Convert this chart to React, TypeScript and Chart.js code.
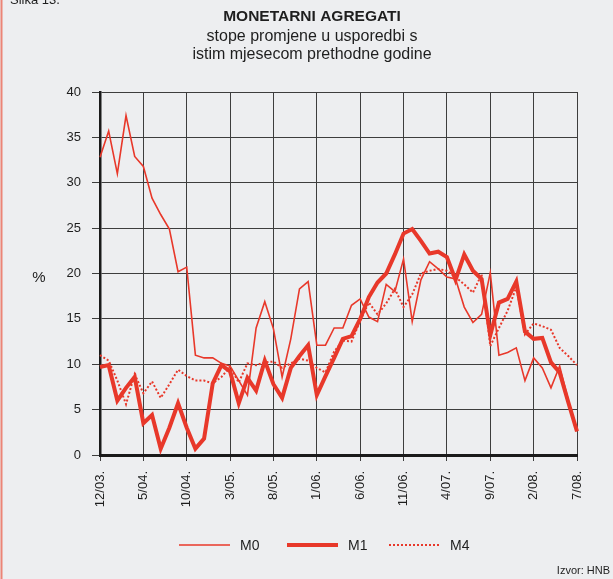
import React, { useEffect, useRef } from 'react';
import { Chart, registerables } from 'chart.js';

Chart.register(...registerables);

const months = [
  '12/03.',
  '1/04.', '2/04.', '3/04.', '4/04.', '5/04.', '6/04.', '7/04.', '8/04.', '9/04.', '10/04.', '11/04.', '12/04.',
  '1/05.', '2/05.', '3/05.', '4/05.', '5/05.', '6/05.', '7/05.', '8/05.', '9/05.', '10/05.', '11/05.', '12/05.',
  '1/06.', '2/06.', '3/06.', '4/06.', '5/06.', '6/06.', '7/06.', '8/06.', '9/06.', '10/06.', '11/06.', '12/06.',
  '1/07.', '2/07.', '3/07.', '4/07.', '5/07.', '6/07.', '7/07.', '8/07.', '9/07.', '10/07.', '11/07.', '12/07.',
  '1/08.', '2/08.', '3/08.', '4/08.', '5/08.', '6/08.', '7/08.',
];

const m0 = [
  32.8, 35.7, 31.0, 37.4, 32.9, 31.8, 28.3, 26.5, 24.9, 20.2,
  20.7, 11.0, 10.7, 10.7, 10.1, 9.8, 8.2, 6.6, 14.0, 16.9,
  13.9, 8.6, 12.8, 18.3, 19.1, 12.1, 12.1, 14.0, 14.0, 16.5,
  17.2, 15.2, 14.7, 18.8, 18.0, 21.6, 14.7, 19.3, 21.3, 20.5,
  19.6, 19.4, 16.3, 14.6, 15.5, 20.1, 11.0, 11.3, 11.8, 8.2,
  10.7, 9.6, 7.4, 9.8, 6.0, 2.6,
];

const m1 = [
  9.7, 9.9, 6.0, 7.4, 8.6, 3.5, 4.4, 0.7, 3.0, 5.7,
  3.0, 0.7, 1.8, 7.9, 9.9, 9.2, 5.7, 8.5, 7.1, 10.4,
  7.8, 6.3, 9.6, 10.9, 12.1, 6.6, 8.7, 10.7, 12.8, 13.1,
  15.0, 17.4, 19.0, 20.0, 22.1, 24.4, 24.9, 23.6, 22.2, 22.4,
  21.8, 19.3, 22.1, 20.3, 19.4, 13.2, 16.8, 17.2, 19.1, 13.6,
  12.8, 12.9, 10.2, 9.1, 5.8, 2.6,
];

const m4 = [
  11.0, 10.4, 8.2, 5.6, 8.9, 6.8, 8.1, 6.3, 7.8, 9.4,
  8.7, 8.2, 8.2, 7.9, 8.6, 9.7, 8.0, 10.1, 9.9, 10.2,
  10.3, 9.6, 10.1, 10.6, 10.4, 9.6, 9.1, 11.4, 12.6, 12.5,
  14.8, 16.8, 15.5, 16.7, 18.3, 16.3, 17.7, 20.0, 20.3, 20.5,
  20.3, 19.6, 18.8, 17.9, 19.9, 12.0, 14.0, 15.9, 18.5, 13.3,
  14.5, 14.2, 13.8, 11.8, 10.9, 9.9,
];

const seriesNames = ['M0', 'M1', 'M4'];
const titleText = 'MONETARNI AGREGATI';
const subtitleLines = ['stope promjene u usporedbi s', 'istim mjesecom prethodne godine'];
const yUnit = '%';
const sourceText = 'Izvor: HNB';
const figureText = 'Slika 13.';

const FONT = '"Liberation Sans", Arial, Helvetica, sans-serif';
const RED = '#E8382A';
const BG = '#EDEEF0';
const GRID = '#3d3d3d';
const TXT = '#1e1e1e';

export default function App() {
  const ref = useRef<HTMLCanvasElement | null>(null);

  useEffect(() => {
    if (!ref.current) return;

    const decor = {
      id: 'decor',
      beforeDraw(chart: any) {
        const ctx = chart.ctx;
        ctx.save();
        ctx.fillStyle = BG;
        ctx.fillRect(0, 0, chart.width, chart.height);
        ctx.strokeStyle = '#EC8476';
        ctx.lineWidth = 2;
        ctx.beginPath();
        ctx.moveTo(1.5, 0);
        ctx.lineTo(1.5, chart.height);
        ctx.stroke();
        ctx.restore();
      },
      afterDraw(chart: any) {
        const ctx = chart.ctx;
        ctx.save();
        ctx.fillStyle = TXT;
        ctx.textAlign = 'left';
        ctx.textBaseline = 'alphabetic';
        ctx.font = `13px ${FONT}`;
        ctx.fillText(figureText, 10, 4);
        ctx.textAlign = 'center';
        ctx.textBaseline = 'middle';
        ctx.font = `bold 15.5px ${FONT}`;
        ctx.fillText(titleText, 312, 17);
        ctx.font = `16px ${FONT}`;
        ctx.fillText(subtitleLines[0], 312, 37);
        ctx.fillText(subtitleLines[1], 312, 55);
        ctx.font = `15px ${FONT}`;
        ctx.fillText(yUnit, 39, 278);
        const items = [{ x: 179 }, { x: 287 }, { x: 389 }];
        const ly = 545;
        chart.data.datasets.forEach((ds: any, i: number) => {
          const x0 = items[i].x;
          ctx.save();
          ctx.strokeStyle = ds.borderColor;
          ctx.lineWidth = ds.borderWidth;
          ctx.setLineDash(ds.borderDash || []);
          ctx.lineCap = 'butt';
          ctx.beginPath();
          ctx.moveTo(x0, ly);
          ctx.lineTo(x0 + 51, ly);
          ctx.stroke();
          ctx.restore();
          ctx.fillStyle = TXT;
          ctx.textAlign = 'left';
          ctx.textBaseline = 'middle';
          ctx.font = `14px ${FONT}`;
          ctx.fillText(ds.label, x0 + 61, ly + 1);
        });
        ctx.textAlign = 'right';
        ctx.font = `11px ${FONT}`;
        ctx.fillText(sourceText, 610, 571);
        ctx.restore();
      },
    };

    const chart = new Chart(ref.current, {
      type: 'line',
      data: {
        labels: months,
        datasets: [
          {
            label: seriesNames[0],
            data: m0,
            borderColor: RED,
            borderWidth: 1.6,
            pointRadius: 0,
            tension: 0,
            fill: false,
          },
          {
            label: seriesNames[1],
            data: m1,
            borderColor: RED,
            borderWidth: 4,
            pointRadius: 0,
            tension: 0,
            fill: false,
            borderJoinStyle: 'miter',
          },
          {
            label: seriesNames[2],
            data: m4,
            borderColor: RED,
            borderWidth: 2,
            borderDash: [2, 2],
            pointRadius: 0,
            tension: 0,
            fill: false,
          },
        ],
      },
      options: {
        responsive: false,
        animation: false,
        devicePixelRatio: 1,
        layout: { padding: { top: 92, right: 36, left: 0, bottom: 0 } },
        plugins: {
          legend: { display: false },
          title: { display: false },
          tooltip: { enabled: false },
        },
        scales: {
          x: {
            type: 'category',
            offset: false,
            afterFit(scale: any) {
              scale.height = 124;
            },
            grid: {
              color: (c: any) => (c.index % 5 === 0 ? GRID : 'rgba(0,0,0,0)'),
              lineWidth: 1,
              drawTicks: true,
              tickLength: 6,
            },
            border: { color: '#1a1a1a', width: 3 },
            ticks: {
              autoSkip: false,
              minRotation: 90,
              maxRotation: 90,
              padding: 10,
              color: TXT,
              font: { family: FONT, size: 13 },
              callback: (_v: any, i: number) => (i % 5 === 0 ? months[i] : ''),
            },
          },
          y: {
            min: 0,
            max: 40,
            afterFit(scale: any) {
              scale.width = 100;
            },
            grid: {
              color: GRID,
              lineWidth: 1,
              tickLength: 8,
            },
            border: { color: '#1a1a1a', width: 2.5 },
            ticks: {
              stepSize: 5,
              padding: 11,
              color: TXT,
              font: { family: FONT, size: 13 },
            },
          },
        },
      },
      plugins: [decor],
    } as any);

    return () => chart.destroy();
  }, []);

  return (
    <div style={{ position: 'absolute', left: 0, top: 0, width: 613, height: 579, background: BG }}>
      <canvas ref={ref} width={613} height={579} style={{ display: 'block', width: 613, height: 579 }} />
    </div>
  );
}
